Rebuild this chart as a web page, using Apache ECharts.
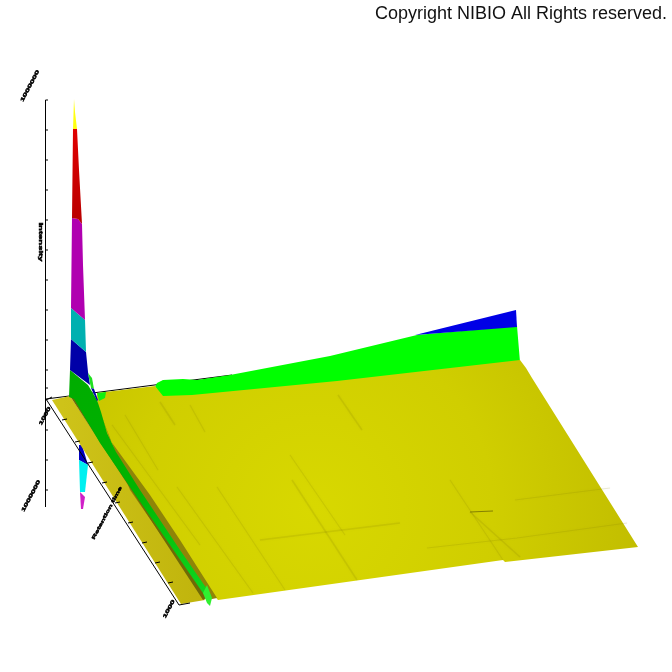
<!DOCTYPE html>
<html><head><meta charset="utf-8">
<style>html,body{margin:0;padding:0;background:#fff}#c{width:672px;height:672px}</style>
<script src="https://cdn.jsdelivr.net/npm/echarts@6/dist/echarts.min.js"></script>
</head><body><div id="c"></div>
<script>
// Outlines of the surface's colour bands (axis units of the page-sized plane)
const wallGreen=[[155,387],[157,383],[163,380],[183,379],[197,380],[230,375],[330,356],[417,335],[517,326],[520,362],[337,382],[192,397],[163,398]];
const wallBlue=[[415,335],[516,310],[517,327]];
const surfaceMain=[[97,393],[155,386],[163,396],[192,395],[337,381],[520,360],[526,368],[532,378],[638,547],[505,562],[503,560],[218,600],[205,585],[140,495],[98,425]];
const stripLeft=[[52,400],[70,396],[205,600],[181,604]];
const stripDark=[[70,396],[74,397],[208,597],[203,600]];
const ridgeBrown=[[100,412],[110,440],[150,495],[180,540],[217,598],[207,600],[170,548],[130,490]];
const ridgeGreen=[[70,370],[88,385],[97,400],[101,412],[107,433],[116,452],[140,490],[180,550],[209,592],[205,596],[170,545],[132,490],[100,443],[74,399],[69,397]];
const ridgeTip=[[203,593],[207,585],[212,598],[210,606],[207,603]];
const brightGreenA=[[88,373],[92,378],[94,389],[91,388]];
const brightGreenB=[[97,393],[106,392],[105,398],[99,401]];
const blueInner=[[91,388],[94,389],[98,400],[97,401]];
const peakYellow=[[74,99],[75,112],[77,129],[73,129]];
const peakRed=[[73,129],[77,129],[79,170],[82,224],[78,219],[72,218]];
const peakMagenta=[[72,218],[78,219],[82,224],[83,265],[85,320],[71,308]];
const peakTeal=[[71,308],[85,320],[86,352],[71,339]];
const peakBlue=[[71,339],[86,352],[88,372],[90,385],[70,370]];
const hangBlue=[[79,445],[82,445],[88,465],[79,460]];
const hangCyan=[[79,460],[88,465],[85,492],[80,492]];
const hangMagenta=[[80,492],[85,497],[83,509],[81,509]];
// Axes
const axisVertical=[[45.5,100],[45.5,507]];
const axisBack=[[46,399],[232,375]];
const axisSide=[[46,399],[179,605],[190,603]];
const axisSideInner=[[52,397],[46,400]];
const verticalTicks=[100,130,160,190,220,250,280,310,340,370,388,430,460,490];
const sideTicksX=[62,75,88,102,115,128,142,155,168];
const sideTicksY=[420,442,463,483,503,523,543,563,583];
// Creases on the surface
const creases=[
 [[292,480],[357,580]],[[217,487],[285,590]],[[177,487],[253,593]],[[260,540],[400,523]],
 [[427,548],[517,538],[627,523]],[[450,480],[503,560]],[[470,512],[520,557]],
 [[515,500],[610,488]],[[290,455],[345,535]],[[338,395],[362,430]],
 [[125,415],[158,470]],[[112,425],[200,545]],[[160,402],[175,425]],[[190,405],[205,432]]];
const darkDash=[[470,512],[493,511]];
// Axis captions (too small to read in the source; best reading)
const captions=["1000000","Intensity","1000","1000000","Retention time","1000"];
const captionX=[30,40,45,31,107,169];
const captionY=[86,242,416,496,513,609];
const captionAngle=[-62,90,-62,-62,-62,-62];
const captionSize=[9,9.5,9,9,8.5,9];
const copyright="Copyright NIBIO All Rights reserved.";

const G=echarts.graphic;
const mainFill=new G.RadialGradient(0.4,0.62,1.5,[{offset:0,color:'#d8d800'},{offset:0.5,color:'#d0ce00'},{offset:1,color:'#bfba00'}]);
const stripFill=new G.LinearGradient(0,0,1,0,[{offset:0,color:'#cfc41a'},{offset:1,color:'#c0b40c'}]);
const ridgeFill=new G.LinearGradient(0,0,1,1,[{offset:0,color:'#00ac00'},{offset:0.5,color:'#00b400'},{offset:1,color:'#10d820'}]);
const redFill=new G.LinearGradient(0,0,0,1,[{offset:0,color:'#e00000'},{offset:1,color:'#b80000'}]);

const polys=[
 [wallGreen,'#00ff00'],[wallBlue,'#0000e6'],[surfaceMain,mainFill],
 [hangBlue,'#0000c0'],[hangCyan,'#00f0f0'],[hangMagenta,'#d020c8'],
 [stripLeft,stripFill],[ridgeBrown,'#8f8408'],[stripDark,'#6f6a06'],[ridgeGreen,ridgeFill],[ridgeTip,'#30f030'],
 [peakBlue,'#0000a8'],[brightGreenA,'#20e020'],[brightGreenB,'#10f010'],[blueInner,'#0000a8'],
 [peakTeal,'#00b0b0'],[peakMagenta,'#b000b0'],[peakRed,redFill],[peakYellow,'#ffff10']
];
const toPix=(api,p)=>p.map(q=>api.coord(q));
const lineEl=(pts,stroke,w,extra)=>({type:'polyline',shape:{points:pts},style:Object.assign({fill:null,stroke:stroke,lineWidth:w},extra||{}),silent:true});

const chart=echarts.init(document.getElementById('c'),null,{renderer:'canvas'});
chart.setOption({
 animation:false,
 backgroundColor:'#fff',
 title:{text:copyright,left:370,top:0,textStyle:{fontFamily:'Liberation Sans',fontSize:18,fontWeight:'normal',color:'#111'}},
 grid:{left:0,right:0,top:0,bottom:0},
 xAxis:{type:'value',min:0,max:672,show:false},
 yAxis:{type:'value',min:0,max:672,inverse:true,show:false},
 series:[
  {type:'custom',coordinateSystem:'cartesian2d',clip:false,silent:true,data:[0],z:1,
   renderItem:(p,api)=>({type:'group',children:[lineEl(toPix(api,axisBack),'#000',1)]})},
  {type:'custom',coordinateSystem:'cartesian2d',clip:false,silent:true,data:[0],z:2,
   renderItem:(p,api)=>({type:'group',children:polys.map(a=>({type:'polygon',shape:{points:toPix(api,a[0])},style:{fill:a[1]},silent:true}))})},
  {type:'custom',coordinateSystem:'cartesian2d',clip:false,silent:true,data:[0],z:3,
   renderItem:(p,api)=>({type:'group',children:creases.map((c,i)=>lineEl(toPix(api,c),'rgba(130,125,0,0.16)',i%3==0?1.6:1.1,{shadowBlur:3,shadowColor:'rgba(120,115,0,0.3)'})).concat([lineEl(toPix(api,darkDash),'rgba(100,95,0,0.7)',1.2)])})},
  {type:'custom',coordinateSystem:'cartesian2d',clip:false,silent:true,data:[0],z:4,
   renderItem:(p,api)=>{
    const ch=[lineEl(toPix(api,axisVertical),'#000',1),lineEl(toPix(api,axisSide),'#000',1),lineEl(toPix(api,axisSideInner),'#000',1)];
    verticalTicks.forEach(y=>ch.push(lineEl(toPix(api,[[45.5,y],[48,y]]),'#000',1)));
    sideTicksX.forEach((x,i)=>ch.push(lineEl(toPix(api,[[x,sideTicksY[i]],[x+5,sideTicksY[i]-1]]),'#000',1)));
    captions.forEach((t,i)=>{const c=api.coord([captionX[i],captionY[i]]);
     ch.push({type:'text',x:c[0],y:c[1],rotation:-captionAngle[i]*Math.PI/180,scaleX:1,scaleY:0.55,silent:true,
      style:{text:t,x:0,y:0,align:'center',verticalAlign:'middle',fontFamily:'Liberation Sans',fontWeight:'bold',fontSize:captionSize[i],fill:'#000',stroke:'#000',lineWidth:0.8}});});
    return {type:'group',children:ch};
   }}
 ]
});
</script></body></html>
